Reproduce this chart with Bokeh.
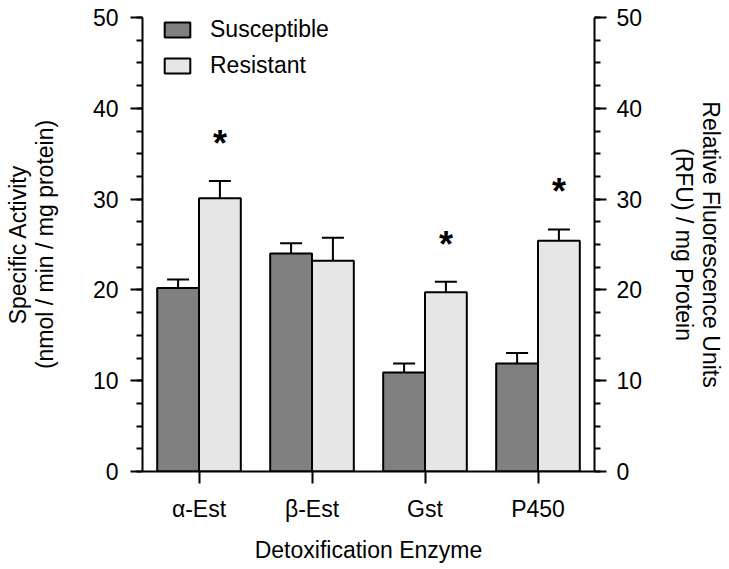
from bokeh.plotting import figure
from bokeh.models import (FactorRange, Range1d, LinearAxis, Whisker, TeeHead,
                          ColumnDataSource, Legend, LegendItem, SingleIntervalTicker)
from bokeh.transform import dodge
from bokeh.embed import file_html
from bokeh.resources import INLINE
from bokeh.core.properties import value

# ---- data ----
enzymes = ["α-Est", "β-Est", "Gst", "P450"]
susceptible = [20.2, 24.0, 10.9, 11.9]
susceptible_err = [0.95, 1.15, 1.0, 1.15]
resistant = [30.1, 23.2, 19.75, 25.4]
resistant_err = [1.9, 2.55, 1.15, 1.25]
significant = [True, False, True, True]
y_min, y_max = 0, 50

FONT = "Liberation Sans"
FS = "23px"
OFF = 0.185
BAR_W = 0.37

src = ColumnDataSource(dict(
    enzyme=enzymes,
    sus=susceptible,
    sus_lo=[v - e for v, e in zip(susceptible, susceptible_err)],
    sus_hi=[v + e for v, e in zip(susceptible, susceptible_err)],
    res=resistant,
    res_lo=[v - e for v, e in zip(resistant, resistant_err)],
    res_hi=[v + e for v, e in zip(resistant, resistant_err)],
))

star_enz = [c for c, s in zip(enzymes, significant) if s]
star_y = [v + e + 4.8 for v, e, s in zip(resistant, resistant_err, significant) if s]
star_src = ColumnDataSource(dict(enzyme=star_enz, y=star_y, t=["*"] * len(star_enz)))

p = figure(x_range=FactorRange(*enzymes, range_padding=0),
           y_range=Range1d(y_min, y_max),
           width=727, height=566, output_backend="svg", toolbar_location=None,
           min_border_left=142, min_border_right=132, min_border_top=17,
           min_border_bottom=95)
p.extra_y_ranges = {"right": Range1d(y_min, y_max)}
p.outline_line_color = None
p.xgrid.visible = False
p.ygrid.visible = False
p.background_fill_color = "white"
p.border_fill_color = "white"

r_sus = p.vbar(x=dodge("enzyme", -OFF, range=p.x_range), top="sus", width=BAR_W,
               source=src, fill_color="#808080", line_color="black", line_width=2)
r_res = p.vbar(x=dodge("enzyme", OFF, range=p.x_range), top="res", width=BAR_W,
               source=src, fill_color="#e6e6e6", line_color="black", line_width=2)

for off, lo, hi in [(-OFF, "sus_lo", "sus_hi"), (OFF, "res_lo", "res_hi")]:
    w = Whisker(source=src, base=dodge("enzyme", off, range=p.x_range),
                lower=lo, upper=hi, line_color="black", line_width=2,
                lower_head=TeeHead(size=22, line_width=2, line_color="black"),
                upper_head=TeeHead(size=22, line_width=2, line_color="black"))
    p.add_layout(w)

p.text(x=dodge("enzyme", OFF, range=p.x_range), y="y", text="t", source=star_src,
       text_font=value(FONT), text_font_size="36px", text_font_style="bold",
       text_align="center", text_baseline="middle", text_color="black",
       y_offset=6)

def style_axis(ax):
    ax.axis_line_color = "black"
    ax.axis_line_width = 2
    ax.major_tick_line_color = "black"
    ax.major_tick_line_width = 2
    ax.minor_tick_line_color = "black"
    ax.minor_tick_line_width = 2
    ax.major_tick_out = 12
    ax.major_tick_in = 0
    ax.minor_tick_out = 6
    ax.minor_tick_in = 0
    ax.major_label_text_font = FONT
    ax.major_label_text_font_size = FS
    ax.major_label_text_color = "black"
    ax.axis_label_text_font = FONT
    ax.axis_label_text_font_size = FS
    ax.axis_label_text_font_style = "normal"
    ax.axis_label_text_color = "black"
    ax.axis_label_text_line_height = 1.05

yl = p.yaxis[0]
yl.ticker = SingleIntervalTicker(interval=10, num_minor_ticks=4)
yl.axis_label = "Specific Activity\n(nmol / min / mg protein)"
style_axis(yl)
yl.major_label_standoff = 12
yl.axis_label_standoff = 32

yr = LinearAxis(y_range_name="right",
                ticker=SingleIntervalTicker(interval=10, num_minor_ticks=4),
                axis_label="Relative Fluorescence Units\n(RFU) / mg Protein")
style_axis(yr)
yr.major_label_standoff = 10
yr.axis_label_standoff = 26
p.add_layout(yr, "right")

xa = p.xaxis[0]
xa.axis_label = "Detoxification Enzyme"
style_axis(xa)
xa.major_label_standoff = 12
xa.axis_label_standoff = 12
xa.axis_label_text_line_height = 1.2
xa.minor_tick_line_color = None

legend = Legend(items=[LegendItem(label="Susceptible", renderers=[r_sus]),
                       LegendItem(label="Resistant", renderers=[r_res])],
                location=(19, 389), padding=0, margin=0, spacing=3,
                glyph_width=32, glyph_height=19, label_height=33,
                label_standoff=17, label_text_font=FONT,
                label_text_font_size=FS, label_text_color="black",
                border_line_color=None, background_fill_alpha=0)
p.add_layout(legend)

open("out.html", "w").write(file_html(p, INLINE))
